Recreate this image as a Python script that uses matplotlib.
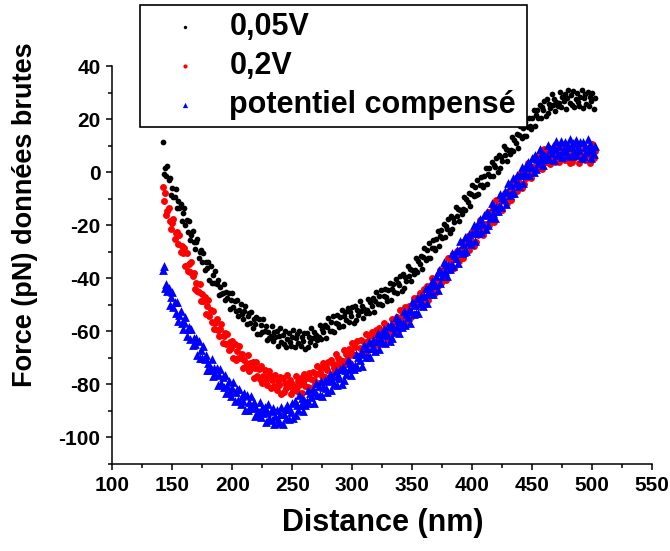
import matplotlib
matplotlib.use("Agg")
import matplotlib.pyplot as plt
from matplotlib.ticker import MultipleLocator

plt.rcParams['font.family'] = ['Liberation Sans', 'DejaVu Sans']
plt.rcParams['font.weight'] = 'bold'
plt.rcParams['axes.unicode_minus'] = False

# distance grid (nm), one reading per nm
distance_nm = list(range(142, 503))

# raw force readings (pN)
force_005V = [
    11.5, -0.5, 1.5, -1.5, 2.5, -3.0, -2.0, -8.5, -6.0, -9.5,
    -9.5, -6.5, -13.5, -11.0, -13.5, -12.0, -18.5, -15.5, -13.5, -20.0,
    -18.0, -22.5, -18.5, -25.5, -23.5, -22.0, -26.5, -29.0, -26.5, -25.0,
    -32.5, -30.0, -29.5, -34.0, -30.5, -36.8, -34.0, -36.3, -34.0, -40.7,
    -35.5, -41.7, -38.9, -41.6, -37.3, -42.0, -40.6, -46.2, -43.3, -45.9,
    -45.5, -42.0, -48.1, -45.2, -47.3, -45.4, -51.5, -48.0, -45.5, -51.0,
    -48.5, -52.5, -48.0, -54.4, -51.8, -49.7, -53.6, -55.5, -52.4, -50.3,
    -57.2, -54.1, -53.0, -56.9, -52.8, -58.7, -55.5, -57.3, -54.6, -60.9,
    -55.2, -61.0, -57.8, -60.1, -55.4, -59.7, -58.0, -63.3, -60.1, -62.4,
    -61.7, -58.0, -63.7, -60.4, -62.1, -59.8, -65.5, -61.7, -58.9, -64.1,
    -61.3, -64.9, -60.0, -66.0, -63.0, -60.5, -64.0, -65.5, -62.0, -59.5,
    -66.0, -62.5, -61.0, -64.5, -60.0, -65.5, -62.0, -63.5, -60.5, -66.5,
    -60.5, -65.9, -62.2, -64.0, -58.8, -62.6, -60.4, -65.2, -61.5, -63.3,
    -62.0, -57.7, -62.9, -59.1, -60.3, -57.5, -62.7, -58.4, -55.1, -59.8,
    -56.5, -59.7, -54.4, -60.1, -56.8, -54.0, -57.2, -58.4, -54.6, -51.8,
    -58.0, -54.3, -52.6, -55.9, -51.2, -56.5, -52.8, -54.1, -50.9, -56.7,
    -50.5, -55.8, -52.1, -53.9, -48.7, -52.5, -50.3, -55.1, -51.4, -53.2,
    -52.0, -47.7, -52.9, -49.1, -50.3, -47.5, -52.7, -48.4, -45.1, -49.8,
    -46.5, -49.7, -44.4, -50.1, -46.8, -44.0, -47.2, -48.4, -44.6, -41.8,
    -48.0, -44.1, -42.2, -45.3, -40.4, -45.5, -41.6, -42.7, -39.3, -44.9,
    -38.5, -43.5, -39.5, -41.0, -35.5, -39.0, -36.5, -41.0, -37.0, -38.5,
    -37.0, -32.5, -37.5, -33.5, -34.5, -31.5, -36.5, -32.0, -28.5, -33.0,
    -29.5, -32.4, -26.8, -32.2, -28.6, -25.5, -28.4, -29.3, -25.2, -22.1,
    -28.0, -23.9, -21.8, -24.7, -19.6, -24.5, -20.4, -21.3, -17.7, -23.1,
    -16.5, -21.4, -17.3, -18.7, -13.1, -16.5, -13.9, -18.3, -14.2, -15.6,
    -14.0, -9.4, -14.3, -10.2, -11.1, -8.0, -12.9, -8.3, -4.7, -9.1,
    -5.5, -8.5, -2.9, -8.4, -4.8, -1.8, -4.7, -5.7, -1.6, 1.5,
    -4.5, -0.5, 1.6, -1.4, 3.7, -1.3, 2.8, 1.9, 5.4, -0.1,
    6.5, 1.6, 5.6, 4.2, 9.7, 6.3, 8.8, 4.4, 8.4, 7.0,
    8.5, 13.1, 8.1, 12.2, 11.2, 14.3, 9.3, 13.9, 17.4, 13.0,
    16.5, 13.6, 19.1, 13.7, 17.2, 20.3, 17.3, 16.4, 20.4, 23.5,
    17.5, 21.5, 23.5, 20.5, 25.5, 20.5, 24.4, 23.3, 26.7, 21.1,
    27.5, 22.2, 25.9, 24.1, 29.3, 25.5, 27.7, 22.9, 26.6, 24.8,
    26.0, 30.1, 24.7, 28.3, 26.9, 29.5, 24.0, 28.0, 31.0, 26.0,
    29.0, 25.5, 30.5, 24.5, 27.5, 30.0, 26.5, 25.0, 28.5, 31.0,
    24.3, 27.8, 29.3, 25.8, 30.3, 24.8, 28.3, 26.8, 29.8, 23.8,
    28.0,
]

force_02V = [
    -5.5, -11.0, -8.0, -16.0, -14.5, -13.5, -18.5, -21.5, -19.0, -17.5,
    -25.2, -22.8, -22.4, -27.0, -23.5, -30.1, -27.7, -30.3, -28.4, -35.5,
    -30.5, -37.1, -34.7, -37.8, -33.9, -39.0, -38.1, -44.2, -41.8, -44.9,
    -45.0, -42.0, -48.5, -46.0, -48.5, -47.0, -53.5, -50.4, -48.3, -54.2,
    -52.1, -56.5, -52.4, -59.2, -57.0, -55.3, -59.6, -61.8, -59.0, -57.2,
    -64.4, -61.6, -60.8, -64.9, -61.0, -67.1, -64.2, -66.2, -63.7, -70.2,
    -64.7, -70.7, -67.6, -70.1, -65.5, -70.0, -68.4, -73.9, -70.8, -73.3,
    -72.7, -69.1, -75.0, -71.9, -73.8, -71.7, -77.6, -74.0, -71.4, -76.8,
    -74.1, -77.9, -73.2, -79.5, -76.8, -74.6, -78.4, -80.2, -77.0, -74.8,
    -81.5, -78.2, -76.9, -80.6, -76.3, -82.0, -78.7, -80.3, -77.4, -83.5,
    -77.5, -83.0, -79.5, -81.5, -76.5, -80.5, -78.5, -83.5, -80.0, -82.0,
    -81.0, -77.0, -82.5, -78.9, -80.3, -77.7, -83.1, -79.0, -75.9, -80.8,
    -77.6, -80.9, -75.7, -81.4, -78.1, -75.3, -78.5, -79.7, -75.9, -73.1,
    -79.3, -75.5, -73.7, -76.9, -72.1, -77.3, -73.5, -74.7, -71.4, -77.1,
    -70.8, -76.0, -72.2, -73.9, -68.6, -72.3, -70.0, -74.7, -70.9, -72.6,
    -71.3, -67.0, -72.2, -68.4, -69.6, -66.8, -72.0, -67.7, -64.4, -69.1,
    -65.8, -69.0, -63.7, -69.4, -66.1, -63.3, -66.5, -67.7, -63.9, -61.1,
    -67.3, -63.5, -61.7, -64.9, -60.1, -65.3, -61.5, -62.7, -59.4, -65.1,
    -58.9, -64.1, -60.3, -62.0, -56.7, -60.4, -58.1, -62.8, -59.0, -60.8,
    -59.6, -55.2, -60.3, -56.4, -57.5, -54.6, -59.7, -55.3, -51.9, -56.5,
    -53.3, -56.4, -51.0, -56.6, -53.2, -50.3, -53.4, -54.5, -50.5, -47.5,
    -53.5, -49.5, -47.5, -50.5, -45.5, -50.5, -46.5, -47.5, -44.0, -49.5,
    -43.0, -48.0, -44.0, -45.5, -40.0, -43.5, -41.0, -45.5, -41.5, -43.0,
    -41.4, -36.9, -41.8, -37.8, -38.7, -35.7, -40.6, -36.1, -32.5, -37.0,
    -33.4, -36.4, -30.8, -36.3, -32.7, -29.7, -32.6, -33.6, -29.5, -26.5,
    -32.4, -28.4, -26.3, -29.3, -24.2, -29.2, -25.1, -26.1, -22.5, -28.0,
    -21.4, -26.4, -22.3, -23.8, -18.2, -21.7, -19.1, -23.6, -19.5, -21.0,
    -19.4, -14.9, -19.8, -15.8, -16.7, -13.7, -18.6, -14.1, -10.5, -15.0,
    -11.4, -14.4, -8.8, -14.3, -10.7, -7.7, -10.6, -11.6, -7.5, -4.5,
    -10.4, -6.4, -4.3, -7.3, -2.2, -7.2, -3.1, -4.1, -0.5, -6.0,
    0.5, -4.5, -0.5, -2.0, 3.5, 0.0, 2.5, -2.0, 2.0, 0.4,
    1.8, 6.2, 1.1, 4.9, 3.7, 6.5, 1.3, 5.5, 8.7, 3.9,
    7.1, 3.8, 9.0, 3.1, 6.2, 8.8, 5.4, 4.0, 7.6, 10.2,
    3.8, 7.3, 8.9, 5.4, 10.0, 4.5, 8.0, 6.5, 9.5, 3.5,
    9.5, 4.0, 7.5, 5.5, 10.5, 6.5, 8.5, 3.5, 7.0, 5.0,
    6.0, 10.0, 4.5, 8.0, 6.5, 9.0, 3.5, 7.5, 10.5, 5.5,
    8.0,
]

force_comp = [
    -37.0, -35.5, -43.5, -42.0, -44.8, -43.5, -50.0, -47.0, -45.0, -50.9,
    -48.8, -53.2, -49.1, -56.0, -53.9, -52.3, -56.7, -59.0, -56.3, -54.6,
    -61.9, -59.2, -58.5, -62.8, -59.1, -65.3, -62.5, -64.7, -62.4, -69.1,
    -63.8, -70.0, -67.2, -69.9, -65.6, -70.3, -69.0, -74.7, -71.8, -74.4,
    -74.0, -70.6, -76.7, -73.8, -75.9, -74.0, -80.1, -76.6, -74.1, -79.6,
    -77.1, -81.1, -76.6, -83.1, -80.6, -78.6, -82.5, -84.4, -81.3, -79.2,
    -86.1, -83.0, -81.9, -85.8, -81.7, -87.5, -84.3, -86.1, -83.4, -89.7,
    -84.0, -89.8, -86.6, -88.9, -84.2, -88.5, -86.8, -92.1, -88.9, -91.2,
    -90.4, -86.6, -92.3, -89.0, -90.7, -88.4, -94.1, -90.3, -87.5, -92.7,
    -89.9, -93.6, -88.8, -94.9, -92.0, -89.5, -93.0, -94.5, -91.0, -88.4,
    -94.8, -91.1, -89.3, -92.5, -87.7, -92.9, -89.1, -90.3, -87.0, -92.7,
    -86.4, -91.6, -87.8, -89.5, -84.1, -87.7, -85.3, -89.9, -86.0, -87.6,
    -86.4, -82.0, -87.2, -83.4, -84.6, -81.8, -87.0, -82.7, -79.4, -84.1,
    -80.8, -84.0, -78.7, -84.4, -81.1, -78.3, -81.5, -82.7, -78.9, -76.1,
    -82.3, -78.5, -76.7, -79.9, -75.1, -80.3, -76.4, -77.5, -74.1, -79.7,
    -73.3, -78.4, -74.5, -76.1, -70.7, -74.3, -71.9, -76.5, -72.6, -74.2,
    -72.8, -68.4, -73.5, -69.6, -70.7, -67.8, -72.9, -68.5, -65.1, -69.7,
    -66.3, -69.4, -64.0, -69.6, -66.2, -63.3, -66.4, -67.5, -63.6, -60.7,
    -66.8, -62.9, -61.0, -64.1, -59.2, -64.3, -60.4, -61.5, -58.1, -63.7,
    -57.3, -62.4, -58.5, -60.1, -54.7, -58.3, -55.9, -60.5, -56.6, -58.2,
    -56.8, -52.4, -57.5, -53.6, -54.7, -51.8, -56.9, -52.5, -49.0, -53.5,
    -50.0, -53.0, -47.5, -53.0, -49.5, -46.5, -49.5, -50.5, -46.5, -43.5,
    -49.3, -45.2, -43.1, -46.0, -40.9, -45.8, -41.7, -42.6, -39.0, -44.4,
    -36.9, -41.9, -37.8, -39.3, -33.7, -37.2, -34.6, -39.1, -35.0, -36.5,
    -34.9, -30.4, -35.3, -31.3, -32.2, -29.2, -34.1, -29.6, -26.0, -30.5,
    -26.9, -29.9, -24.3, -29.8, -26.2, -23.2, -26.1, -27.1, -23.0, -20.0,
    -25.9, -21.9, -19.8, -22.8, -17.7, -22.7, -18.6, -19.6, -16.0, -21.5,
    -14.9, -19.9, -15.8, -17.3, -11.7, -15.2, -12.6, -17.1, -13.0, -14.5,
    -12.9, -8.4, -13.3, -9.3, -10.2, -7.2, -12.1, -7.6, -4.0, -8.5,
    -4.9, -7.9, -2.3, -7.8, -4.2, -1.2, -4.1, -5.1, -1.0, 2.0,
    -4.0, 0.0, 2.0, -1.0, 4.0, -1.0, 3.0, 2.0, 5.5, -0.1,
    6.3, 1.2, 5.1, 3.5, 8.8, 5.1, 7.4, 2.7, 6.5, 4.8,
    6.0, 10.2, 4.9, 8.6, 7.3, 10.0, 4.6, 8.7, 11.8, 6.9,
    10.0, 6.6, 11.7, 5.8, 8.9, 11.5, 8.0, 6.5, 10.0, 12.5,
    6.0, 9.5, 11.0, 7.5, 12.0, 6.5, 10.0, 8.5, 11.5, 5.5,
    11.5, 6.0, 9.5, 7.5, 12.5, 8.5, 10.5, 5.5, 9.0, 7.0,
    10.0,
]

labels = ['0,05V', '0,2V', 'potentiel compensé']

fig = plt.figure(figsize=(6.7, 5.51), dpi=100)
ax = fig.add_axes([0.1676, 0.158, 0.806, 0.722])

ax.scatter(distance_nm, force_005V, s=17, marker='o', color='black', linewidths=0, label=labels[0])
ax.scatter(distance_nm, force_02V, s=25, marker='o', color='red', linewidths=0, label=labels[1])
ax.scatter(distance_nm, force_comp, s=40, marker='^', color='blue', linewidths=0, label=labels[2])

ax.set_xlim(100, 550)
ax.set_ylim(-110, 40)
ax.xaxis.set_major_locator(MultipleLocator(50))
ax.xaxis.set_minor_locator(MultipleLocator(25))
ax.yaxis.set_major_locator(MultipleLocator(20))
ax.yaxis.set_minor_locator(MultipleLocator(10))

for side in ['top', 'right']:
    ax.spines[side].set_visible(False)
for side in ['left', 'bottom']:
    ax.spines[side].set_linewidth(1.1)

ax.tick_params(which='major', direction='out', length=4.5, width=1.1, labelsize=15, pad=4)
ax.tick_params(which='minor', direction='out', length=3, width=1.1)
for lab in ax.get_xticklabels() + ax.get_yticklabels():
    lab.set_fontweight('bold')

ax.set_xlabel('Distance (nm)', fontsize=22, fontweight='bold')
ax.set_ylabel('Force (pN) données brutes', fontsize=19.5, fontweight='bold')
ax.xaxis.set_label_coords(0.5, -0.11)
ax.yaxis.set_label_coords(-0.137, 0.626)

leg = ax.legend(loc='upper left', bbox_to_anchor=(0.209, 0.7677, 0.5776, 0.2232),
                bbox_transform=fig.transFigure, mode='expand', borderaxespad=0,
                prop={'size': 22, 'weight': 'bold'}, frameon=True, fancybox=False,
                handlelength=2.5, handletextpad=0.2, borderpad=0.22, labelspacing=0.3,
                markerscale=0.6)
leg.get_frame().set_edgecolor('black')
leg.get_frame().set_linewidth(1.2)
leg.get_frame().set_alpha(1)

fig.savefig('out.png', dpi=100)
